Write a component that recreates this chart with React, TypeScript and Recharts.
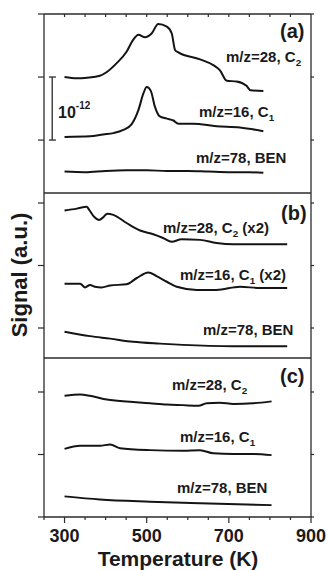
import React from 'react';
import { LineChart, Line, XAxis, YAxis, ReferenceLine } from 'recharts';

// ---------- data (temperature in K, signal in arbitrary units, 1 unit = 10^-12) ----------
// Panel (a)
const A_C2_T = [300, 330, 355, 386, 403, 427, 451, 467, 480, 496, 512, 528, 549, 561, 569, 577, 630, 662, 678, 695, 719, 743, 753, 784];
const A_C2_V = [1.0, 0.98, 0.99, 1.02, 1.08, 1.22, 1.4, 1.59, 1.67, 1.63, 1.69, 1.84, 1.8, 1.69, 1.43, 1.39, 1.28, 1.19, 1.11, 0.94, 0.93, 0.86, 0.79, 0.78];
const A_C1_T = [300, 362, 394, 419, 443, 463, 480, 492, 500, 510, 520, 531, 549, 565, 577, 613, 670, 727, 784];
const A_C1_V = [0.05, 0.06, 0.09, 0.11, 0.16, 0.25, 0.48, 0.74, 0.84, 0.78, 0.53, 0.38, 0.34, 0.31, 0.26, 0.26, 0.22, 0.2, 0.14];
const A_BEN_T = [300, 350, 400, 450, 500, 550, 600, 650, 700, 750, 784];
const A_BEN_V = [-0.5, -0.51, -0.49, -0.48, -0.48, -0.49, -0.49, -0.5, -0.51, -0.51, -0.52];

// Panel (b)
const B_C2_T = [300, 330, 354, 360, 372, 384, 394, 404, 419, 451, 484, 516, 540, 561, 585, 630, 670, 711, 776, 842];
const B_C2_V = [1.88, 1.91, 1.94, 1.89, 1.78, 1.73, 1.77, 1.83, 1.81, 1.68, 1.56, 1.5, 1.44, 1.38, 1.42, 1.41, 1.36, 1.34, 1.34, 1.34];
const B_C1_T = [300, 338, 350, 362, 374, 390, 411, 451, 476, 504, 524, 549, 573, 622, 670, 727, 776, 842];
const B_C1_V = [0.71, 0.71, 0.65, 0.69, 0.66, 0.65, 0.68, 0.7, 0.8, 0.89, 0.83, 0.74, 0.66, 0.61, 0.61, 0.66, 0.64, 0.64];
const B_BEN_T = [300, 362, 411, 467, 532, 588, 711, 842];
const B_BEN_V = [-0.06, -0.13, -0.17, -0.22, -0.25, -0.27, -0.29, -0.29];

// Panel (c)
const C_C2_T = [300, 338, 362, 403, 467, 508, 549, 588, 626, 646, 678, 711, 759, 804];
const C_C2_V = [1.94, 1.96, 1.94, 1.88, 1.84, 1.82, 1.8, 1.79, 1.78, 1.82, 1.83, 1.81, 1.82, 1.85];
const C_C1_T = [300, 338, 386, 411, 435, 508, 588, 630, 662, 711, 759, 804];
const C_C1_V = [1.09, 1.14, 1.14, 1.16, 1.1, 1.07, 1.06, 1.07, 1.02, 1.01, 1.01, 0.99];
const C_BEN_T = [300, 386, 508, 630, 804];
const C_BEN_V = [0.33, 0.28, 0.245, 0.22, 0.19];

// axes
const X_DOMAIN = [250, 900];
const X_MINOR_TICKS = [250, 300, 350, 400, 450, 500, 550, 600, 650, 700, 750, 800, 850, 900];
const X_TOP_TICKS = [300, 350, 400, 450, 500, 550, 600, 650, 700, 750, 800, 850];
const X_LABEL_TICKS = [300, 500, 700, 900];
const Y_TICKS = [0, 1, 2];
const SCALE_BAR_X = 270;

const zip = (t: number[], v: number[]) => t.map((T, i) => ({ T, v: v[i] }));

// ---------- layout ----------
const W = 329;
const H = 570;
const PLOT_LEFT = 44;
const PLOT_RIGHT = 311;
const AX = 10;
const AXIS_COLOR = '#2b2b2b';
const LINE_COLOR = '#141414';
const FONT = '"Liberation Sans", Arial, Helvetica, sans-serif';

type Panel = {
  key: string;
  top: number;
  bottom: number;
  domain: [number, number];
  series: { T: number; v: number }[][];
  hasTop: boolean;
  hasBottomLabels: boolean;
  scaleBar: boolean;
};

const PANELS: Panel[] = [
  { key: 'a', top: 14, bottom: 193, domain: [-0.84, 2], series: [zip(A_C2_T, A_C2_V), zip(A_C1_T, A_C1_V), zip(A_BEN_T, A_BEN_V)], hasTop: true, hasBottomLabels: false, scaleBar: true },
  { key: 'b', top: 193, bottom: 358, domain: [-0.48, 2.16], series: [zip(B_C2_T, B_C2_V), zip(B_C1_T, B_C1_V), zip(B_BEN_T, B_BEN_V)], hasTop: false, hasBottomLabels: false, scaleBar: false },
  { key: 'c', top: 358, bottom: 517, domain: [0, 2.544], series: [zip(C_C2_T, C_C2_V), zip(C_C1_T, C_C1_V), zip(C_BEN_T, C_BEN_V)], hasTop: false, hasBottomLabels: true, scaleBar: false },
];

const BottomTick = (props: any) => {
  const { x, y, payload } = props;
  const major = X_LABEL_TICKS.includes(payload.value);
  return (
    <g>
      <line x1={x} x2={x} y1={y} y2={y + (major ? 6 : 3)} stroke={AXIS_COLOR} strokeWidth={1.2} />
      {major && (
        <text x={x} y={y + 25} textAnchor="middle" fontFamily={FONT} fontWeight="bold" fontSize={18} fill="#1a1a1a">
          {payload.value}
        </text>
      )}
    </g>
  );
};

const TopTick = (props: any) => {
  const { x, y } = props;
  return <line x1={x} x2={x} y1={y} y2={y + 3} stroke={AXIS_COLOR} strokeWidth={1.2} />;
};

const LeftTick = (props: any) => {
  const { x, y } = props;
  return <line x1={x - 6} x2={x} y1={y} y2={y} stroke={AXIS_COLOR} strokeWidth={1.2} />;
};

const RightTick = (props: any) => {
  const { x, y } = props;
  return <line x1={x} x2={x + 3} y1={y} y2={y} stroke={AXIS_COLOR} strokeWidth={1.2} />;
};

const PanelChart = ({ p }: { p: Panel }) => {
  const margin = {
    top: p.top - (p.hasTop ? AX : 0),
    bottom: H - p.bottom - AX,
    left: PLOT_LEFT - AX,
    right: W - PLOT_RIGHT - AX,
  };
  return (
    <div style={{ position: 'absolute', left: 0, top: 0 }}>
      <LineChart width={W} height={H} margin={margin}>
        <XAxis
          xAxisId="b"
          type="number"
          dataKey="T"
          domain={X_DOMAIN}
          allowDataOverflow
          orientation="bottom"
          height={AX}
          ticks={X_MINOR_TICKS}
          interval={0}
          tickSize={0}
          tickMargin={0}
          tickLine={false}
          tick={p.hasBottomLabels ? (tp: any) => <BottomTick {...tp} /> : false}
          axisLine={{ stroke: AXIS_COLOR, strokeWidth: 1.3 }}
        />
        {p.hasTop && (
          <XAxis
            xAxisId="t"
            type="number"
            dataKey="T"
            domain={X_DOMAIN}
            allowDataOverflow
            orientation="top"
            height={AX}
            ticks={X_TOP_TICKS}
            interval={0}
            tickSize={0}
            tickMargin={0}
            tickLine={false}
            tick={(tp: any) => <TopTick {...tp} />}
            axisLine={{ stroke: AXIS_COLOR, strokeWidth: 1.3 }}
          />
        )}
        <YAxis
          yAxisId="l"
          type="number"
          domain={p.domain}
          allowDataOverflow
          orientation="left"
          width={AX}
          ticks={Y_TICKS}
          interval={0}
          tickSize={0}
          tickMargin={0}
          tickLine={false}
          tick={(tp: any) => <LeftTick {...tp} />}
          axisLine={{ stroke: AXIS_COLOR, strokeWidth: 1.3 }}
        />
        <YAxis
          yAxisId="r"
          type="number"
          domain={p.domain}
          allowDataOverflow
          orientation="right"
          width={AX}
          ticks={Y_TICKS}
          interval={0}
          tickSize={0}
          tickMargin={0}
          tickLine={false}
          tick={(tp: any) => <RightTick {...tp} />}
          axisLine={{ stroke: AXIS_COLOR, strokeWidth: 1.3 }}
        />
        {p.series.map((s, i) => (
          <Line
            key={i}
            xAxisId="b"
            yAxisId="l"
            data={s}
            dataKey="v"
            type="monotone"
            stroke={LINE_COLOR}
            strokeWidth={2}
            dot={false}
            activeDot={false}
            isAnimationActive={false}
          />
        ))}
        {p.scaleBar && (
          <ReferenceLine xAxisId="b" yAxisId="l" segment={[{ x: SCALE_BAR_X, y: 0 }, { x: SCALE_BAR_X, y: 1 }]} stroke={AXIS_COLOR} strokeWidth={1.3} />
        )}
        {p.scaleBar && (
          <ReferenceLine xAxisId="b" yAxisId="l" segment={[{ x: SCALE_BAR_X - 8, y: 1 }, { x: SCALE_BAR_X + 9, y: 1 }]} stroke={AXIS_COLOR} strokeWidth={1.3} />
        )}
        {p.scaleBar && (
          <ReferenceLine xAxisId="b" yAxisId="l" segment={[{ x: SCALE_BAR_X - 8, y: 0 }, { x: SCALE_BAR_X + 9, y: 0 }]} stroke={AXIS_COLOR} strokeWidth={1.3} />
        )}
      </LineChart>
    </div>
  );
};

const T = (props: { x: number; y: number; main: string; sub?: string; rest?: string; size?: number }) => {
  const size = props.size ?? 15;
  return (
    <text x={props.x} y={props.y} fontFamily={FONT} fontWeight="bold" fontSize={size} fill="#1a1a1a">
      {props.main}
      {props.sub && (
        <tspan fontSize={size * 0.66} dy={4}>
          {props.sub}
        </tspan>
      )}
      {props.sub && <tspan dy={-4}>{props.rest ?? ''}</tspan>}
    </text>
  );
};

export default function App() {
  return (
    <div style={{ position: 'absolute', left: 0, top: 0, width: W, height: H, background: '#fff' }}>
      {PANELS.map((p) => (
        <PanelChart key={p.key} p={p} />
      ))}
      <svg width={W} height={H} style={{ position: 'absolute', left: 0, top: 0 }}>
        {/* panel (a) */}
        <T x={280} y={38} main="(a)" size={20} />
        <T x={226} y={62} main="m/z=28, C" sub="2" />
        <T x={199} y={117} main="m/z=16, C" sub="1" />
        <T x={196} y={163} main="m/z=78, BEN" />
        <text x={58} y={118} fontFamily={FONT} fontWeight="bold" fontSize={16} fill="#1a1a1a">
          10
          <tspan fontSize={10} dy={-9}>-12</tspan>
        </text>
        {/* panel (b) */}
        <T x={281} y={220} main="(b)" size={20} />
        <T x={163} y={233} main="m/z=28, C" sub="2" rest=" (x2)" />
        <T x={180} y={280} main="m/z=16, C" sub="1" rest=" (x2)" />
        <T x={203} y={335} main="m/z=78, BEN" />
        {/* panel (c) */}
        <T x={280} y={383} main="(c)" size={20} />
        <T x={172} y={390} main="m/z=28, C" sub="2" />
        <T x={180} y={442} main="m/z=16, C" sub="1" />
        <T x={177} y={493} main="m/z=78, BEN" />
        {/* axis titles */}
        <text x={178} y={566} textAnchor="middle" fontFamily={FONT} fontWeight="bold" fontSize={21} fill="#1a1a1a">
          Temperature (K)
        </text>
        <text
          x={27}
          y={275}
          transform="rotate(-90 27 275)"
          textAnchor="middle"
          fontFamily={FONT}
          fontWeight="bold"
          fontSize={22}
          fill="#1a1a1a"
        >
          Signal (a.u.)
        </text>
      </svg>
    </div>
  );
}
